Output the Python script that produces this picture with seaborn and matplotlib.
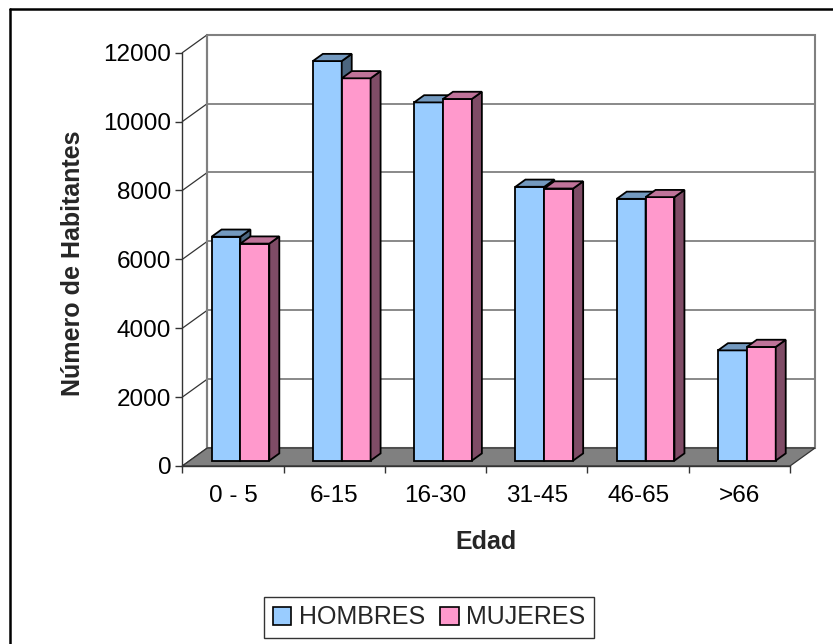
import numpy as np
import pandas as pd
import matplotlib
matplotlib.use("Agg")
import matplotlib.pyplot as plt
from matplotlib.patches import Polygon, Rectangle, Patch
from matplotlib.lines import Line2D
import seaborn as sns

# data
edades = ["0 - 5", "6-15", "16-30", "31-45", "46-65", ">66"]
hombres = [6500, 11600, 10400, 7950, 7600, 3200]
mujeres = [6300, 11100, 10500, 7900, 7650, 3300]
series = ["HOMBRES", "MUJERES"]
y_ticks = [0, 2000, 4000, 6000, 8000, 10000, 12000]

colores = {"HOMBRES": "#99CCFF", "MUJERES": "#FF99CC"}
lados = {"HOMBRES": "#4C667F", "MUJERES": "#7F4C66"}
techos = {"HOMBRES": "#7399BF", "MUJERES": "#BF7399"}

df = pd.DataFrame({
    "Edad": edades * 2,
    "Sexo": ["HOMBRES"] * len(edades) + ["MUJERES"] * len(edades),
    "Habitantes": hombres + mujeres,
})

sns.set_theme(style="white")
plt.rcParams['font.family'] = ['Liberation Sans', 'DejaVu Sans']

W, H = 833, 644
fig = plt.figure(figsize=(W / 100, H / 100), dpi=100)
fig.patch.set_facecolor("white")

# front plane of the 3D box, in pixels
left, right, bottom, top = 182.3, 790, 466, 52.7
ax = fig.add_axes([left / W, (H - bottom) / H, (right - left) / W, (bottom - top) / H])
ax.patch.set_visible(False)

sns.barplot(data=df, x="Edad", y="Habitantes", hue="Sexo", palette=colores,
            hue_order=series, width=0.57, saturation=1, edgecolor="black",
            linewidth=1.3, legend=False, ax=ax)

ymax = y_ticks[-1]
x0, x1 = -0.5, len(edades) - 0.5
ax.set_xlim(x0, x1)
ax.set_ylim(0, ymax)

# depth of the box (25 px right, 18 px up) in data units
DX = 25 / ((right - left) / (x1 - x0))
DY = 18 / ((bottom - top) / ymax)

grid_c = "#808080"
# back wall
ax.add_patch(Rectangle((x0 + DX, DY), x1 - x0, ymax, facecolor="white",
                       edgecolor=grid_c, lw=1.5, zorder=0.5, clip_on=False))
for t in y_ticks:
    ax.plot([x0 + DX, x1 + DX], [t + DY, t + DY], color=grid_c, lw=1.3, zorder=0.6, clip_on=False)
    ax.plot([x0, x0 + DX], [t, t + DY], color="#333333", lw=0.9, zorder=0.7, clip_on=False)
ax.plot([x0 + DX, x0 + DX], [DY, ymax + DY], color=grid_c, lw=1.5, zorder=0.7, clip_on=False)
# floor
ax.add_patch(Polygon([(x0, 0), (x1, 0), (x1 + DX, DY), (x0 + DX, DY)], closed=True,
                     facecolor="#808080", edgecolor="#333333", lw=0.9, zorder=0.8, clip_on=False))

# turn the flat bars into boxes
f0, f1 = 0.3, 0.7
for k, (cont, s) in enumerate(zip(ax.containers, series)):
    for bar in cont:
        x, w, h = bar.get_x(), bar.get_width(), bar.get_height()
        bx, by = x + f0 * DX, f0 * DY
        bar.set_x(bx)
        bar.set_y(by)
        bar.set_zorder(3 + k)
        bar.set_clip_on(False)
        d, dy = (f1 - f0) * DX, (f1 - f0) * DY
        side = [(bx + w, by), (bx + w, by + h), (bx + w + d, by + h + dy), (bx + w + d, by + dy)]
        roof = [(bx, by + h), (bx + w, by + h), (bx + w + d, by + h + dy), (bx + d, by + h + dy)]
        ax.add_patch(Polygon(side, closed=True, facecolor=lados[s], edgecolor="black",
                             lw=1.3, zorder=3 + k, clip_on=False))
        ax.add_patch(Polygon(roof, closed=True, facecolor=techos[s], edgecolor="black",
                             lw=1.3, zorder=3 + k, clip_on=False))

# axes, ticks, labels
for sp in ["top", "right"]:
    ax.spines[sp].set_visible(False)
for sp in ["left", "bottom"]:
    ax.spines[sp].set_color("#333333")
    ax.spines[sp].set_linewidth(1.0)
    ax.spines[sp].set_zorder(1)

ax.set_yticks(y_ticks)
ax.set_yticklabels([str(t) for t in y_ticks])
ax.set_xticks(np.arange(x0, x1 + 0.01, 1), minor=True)
ax.tick_params(axis="y", which="major", left=True, length=5, width=1, color="#333333",
               pad=3, labelsize=17.5, labelcolor="black")
ax.tick_params(axis="x", which="major", bottom=True, length=0, pad=14, labelsize=17.5,
               labelcolor="black")
ax.tick_params(axis="x", which="minor", bottom=True, length=5, width=1, color="#333333")
ax.grid(False)

ax.set_xlabel("Edad", fontsize=18, fontweight="bold")
ax.set_ylabel("Número de Habitantes", fontsize=18, fontweight="bold")
ax.xaxis.set_label_coords(0.5, -0.155)
ax.yaxis.set_label_coords(-0.16, 0.49)

handles = [Patch(facecolor=colores[s], edgecolor="black", lw=1.2, label=s) for s in series]
leg = fig.legend(handles=handles, loc="center", bbox_to_anchor=(429 / W, 1 - 617.5 / H),
                 ncol=2, fontsize=18, frameon=True, fancybox=False, shadow=False,
                 handlelength=0.75, handleheight=0.75, handletextpad=0.3, columnspacing=0.6,
                 borderpad=0.35)
leg.get_frame().set_edgecolor("black")
leg.get_frame().set_linewidth(1.0)

# outer chart frame (only top and left edges show in the reference)
fig.add_artist(Line2D([10 / W, 1], [1 - 9 / H, 1 - 9 / H], transform=fig.transFigure,
                      color="black", lw=1.8))
fig.add_artist(Line2D([10 / W, 10 / W], [0, 1 - 9 / H], transform=fig.transFigure,
                      color="black", lw=1.8))

fig.savefig("out.png", dpi=100, facecolor="white")
